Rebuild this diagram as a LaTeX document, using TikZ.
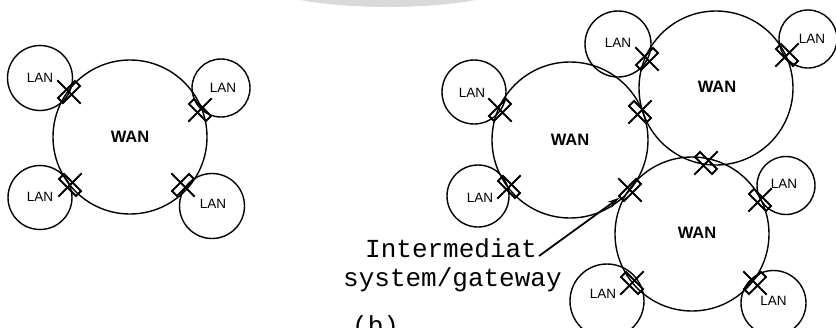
\documentclass[tikz,border=0pt]{standalone}
\usepackage{fontspec}
\setmainfont{Liberation Sans}
\newfontfamily\courfont{Liberation Mono}
\usetikzlibrary{arrows.meta}
\tikzset{
  net/.style={circle, draw, line width=1.4pt, inner sep=0pt},
  lantxt/.style={inner sep=0pt, font=\fontsize{13.5pt}{14pt}\selectfont},
  wantxt/.style={font=\bfseries\fontsize{16.5pt}{17pt}\selectfont},
  gwbox/.style={draw, line width=1.9pt, minimum width=24pt, minimum height=7pt, inner sep=0pt},
  gwline/.style={line width=1.9pt},
  mono/.style={inner sep=0pt, anchor=base west, font=\courfont\fontsize{26pt}{26pt}\selectfont},
}
\newcommand\gw[4]{%
  \node[gwbox, rotate=#4] (#1) at (#2,-#3) {};
  \draw[gwline] ([shift={(#4+90:16.5pt)}]#1.center) -- ([shift={(#4-90:16.5pt)}]#1.center);
}
\begin{document}
\begin{tikzpicture}[x=1pt,y=1pt]
\useasboundingbox (0,0) rectangle (836,-327);
\fill[black!15] (388,23) ellipse [x radius=137, y radius=30];
% (a)
\node[net, minimum size=65] (aL1) at (40,-78) {};
\node[lantxt] (aT1) at (40,-78) {LAN};
\node[net, minimum size=58] (aL2) at (221,-88) {};
\node[lantxt] (aT2) at (223,-88) {LAN};
\node[net, minimum size=64] (aL3) at (40,-197.5) {};
\node[lantxt] (aT3) at (40,-197) {LAN};
\node[net, minimum size=65] (aL4) at (212,-206) {};
\node[lantxt] (aT4) at (213,-204) {LAN};
\node[net, minimum size=154, wantxt] (aW) at (130,-137) {WAN};
\gw{aG1}{69}{92}{45}
\gw{aG2}{200}{110}{-45}
\gw{aG3}{70}{185}{-45}
\gw{aG4}{183}{185}{45}
% (b)
\node[net, minimum size=154] (bW1) at (716,-88) {};
\node[wantxt] (bT1) at (717,-87) {WAN};
\node[net, minimum size=156, wantxt] (bW2) at (570,-140) {WAN};
\node[net, minimum size=154] (bW3) at (692,-234) {};
\node[wantxt] (bT3) at (697,-233) {WAN};
\node[net, minimum size=66] (bL1) at (618,-44) {};
\node[lantxt] (bN1) at (618,-43) {LAN};
\node[net, minimum size=58] (bL2) at (808,-39) {};
\node[lantxt] (bN2) at (812,-39) {LAN};
\node[net, minimum size=64] (bL3) at (474,-92) {};
\node[lantxt] (bN3) at (472,-93) {LAN};
\node[net, minimum size=62] (bL4) at (478,-196) {};
\node[lantxt] (bN4) at (480,-198) {LAN};
\node[net, minimum size=58] (bL5) at (786,-185.5) {};
\node[lantxt] (bN5) at (784,-184) {LAN};
\node[net, minimum size=74] (bL6) at (607,-301) {};
\node[lantxt] (bN6) at (603,-294) {LAN};
\node[net, minimum size=65] (bL7) at (773.5,-303) {};
\node[lantxt] (bN7) at (773.5,-301) {LAN};
\gw{bG1}{647}{59}{45}
\gw{bG2}{787}{55}{-45}
\gw{bG3}{500}{110}{45}
\gw{bG4}{640}{112}{-45}
\gw{bG5}{706}{163}{-45}
\gw{bG6}{509}{187}{-45}
\gw{bG7}{630}{190}{45}
\gw{bG8}{760}{200}{-45}
\gw{bG9}{632}{283}{-45}
\gw{bG10}{755}{283}{45}
% labels
\node[mono] (it1) at (365,-257) {Intermediat};
\node[mono] (it2) at (343,-286) {system/gateway};
\node[mono] (lb) at (352,-334) {(b)};
\coordinate (atail) at (539,-256);
\draw[line width=1.8pt, -{Stealth[length=12pt,width=7pt]}] (atail) -- (bG7);
\end{tikzpicture}
\end{document}
